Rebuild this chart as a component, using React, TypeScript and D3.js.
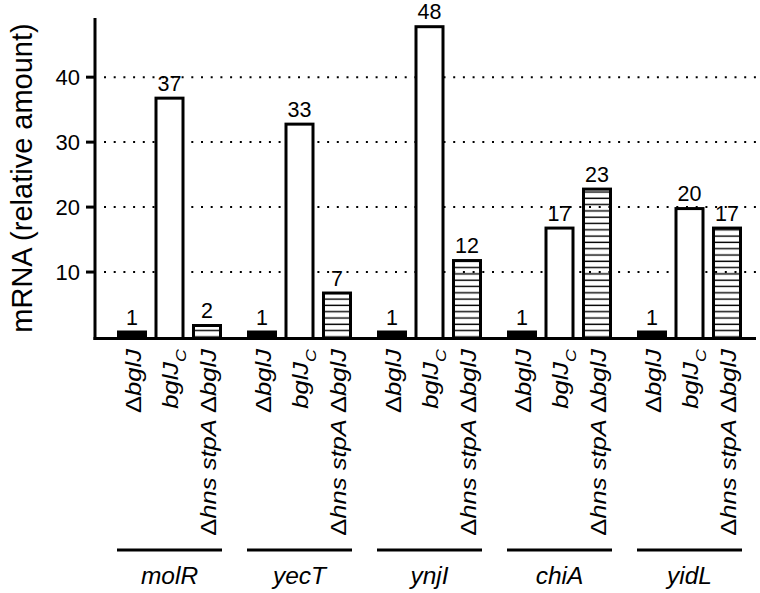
import React from "react";
import * as d3 from "d3";

const genes = ["molR", "yecT", "ynjI", "chiA", "yidL"];
const strains = ["dbglJ", "bglJC", "hnsStpA"];
const dbglJValues = [1, 1, 1, 1, 1];
const bglJCValues = [37, 33, 48, 17, 20];
const hnsStpAValues = [2, 7, 12, 23, 17];
const yTicks = [10, 20, 30, 40];

const W = 760;
const H = 593;
const FONT = "'Liberation Sans', Arial, Helvetica, sans-serif";

export default function App() {
  const x0 = d3.scaleBand<string>().domain(genes).range([117, 742]).paddingInner(25 / 130).paddingOuter(0);
  const x1 = d3.scaleBand<string>().domain(strains).range([0, x0.bandwidth()]).paddingInner(0.2).paddingOuter(0);
  const y = d3.scaleLinear().domain([0, 48.8]).range([337, 20]);

  const seriesValues: Record<string, number[]> = {
    dbglJ: dbglJValues,
    bglJC: bglJCValues,
    hnsStpA: hnsStpAValues,
  };

  const sw = 3;
  const labelTop = 349;

  const renderCatLabel = (s: string, cx: number, key: string) => {
    const tf = `translate(${cx},${labelTop}) rotate(-90) scale(1.19,1)`;
    let content: React.ReactNode;
    if (s === "dbglJ") {
      content = (
        <>
          <tspan fontStyle="normal">Δ</tspan>
          <tspan>bglJ</tspan>
        </>
      );
    } else if (s === "bglJC") {
      content = (
        <>
          <tspan>bglJ</tspan>
          <tspan fontSize={15} dy={9}>C</tspan>
        </>
      );
    } else {
      content = (
        <>
          <tspan fontStyle="normal">Δ</tspan>
          <tspan>hns stpA </tspan>
          <tspan fontStyle="normal">Δ</tspan>
          <tspan>bglJ</tspan>
        </>
      );
    }
    return (
      <text
        key={key}
        transform={tf}
        textAnchor="end"
        dy={s === "bglJC" ? 8 : 8.5}
        fontSize={21.5}
        fontStyle="italic"
        fontFamily={FONT}
        fill="#000"
      >
        {content}
      </text>
    );
  };

  return (
    <svg
      width={W}
      height={H}
      viewBox={`0 0 ${W} ${H}`}
      style={{ position: "absolute", left: 0, top: 0, background: "#fff" }}
    >
      <defs>
        <pattern id="hatch" patternUnits="userSpaceOnUse" width={8} height={6.3} y={0}>
          <line x1={0} x2={8} y1={3} y2={3} stroke="#000" strokeWidth={1.4} />
        </pattern>
      </defs>
      <rect x={0} y={0} width={W} height={H} fill="#fff" />

      {/* dotted gridlines */}
      {yTicks.map((t) => (
        <line
          key={`g${t}`}
          x1={104}
          x2={756}
          y1={y(t)}
          y2={y(t)}
          stroke="#000"
          strokeWidth={2}
          strokeDasharray="2 7.7"
        />
      ))}

      {/* bars */}
      {genes.map((g, gi) =>
        strains.map((s) => {
          const v = seriesValues[s][gi];
          const bx = (x0(g) as number) + (x1(s) as number);
          const bw = x1.bandwidth();
          const top = y(v);
          const fill = s === "dbglJ" ? "#000" : s === "bglJC" ? "#fff" : "url(#hatch)";
          return (
            <g key={`${g}-${s}`}>
              <rect
                x={bx + sw / 2}
                y={top + sw / 2}
                width={bw - sw}
                height={Math.max(0, y(0) - top)}
                fill={fill}
                stroke="#000"
                strokeWidth={sw}
              />
              <text
                x={bx + bw / 2}
                y={top - 6}
                textAnchor="middle"
                fontSize={21.5}
                fontFamily={FONT}
                fill="#000"
              >
                {v}
              </text>
            </g>
          );
        })
      )}

      {/* axes */}
      <line x1={95} x2={95} y1={18} y2={340} stroke="#000" strokeWidth={3} />
      <line x1={93.5} x2={756} y1={338.5} y2={338.5} stroke="#000" strokeWidth={3} />
      {yTicks.map((t) => (
        <g key={`t${t}`}>
          <line x1={86} x2={95} y1={y(t)} y2={y(t)} stroke="#000" strokeWidth={3} />
          <text
            x={80}
            y={y(t)}
            dy="0.36em"
            textAnchor="end"
            fontSize={22}
            fontFamily={FONT}
            fill="#000"
          >
            {t}
          </text>
        </g>
      ))}

      {/* y label */}
      <text
        transform={`translate(32,178) rotate(-90)`}
        textAnchor="middle"
        fontSize={29}
        fontFamily={FONT}
        fill="#000"
      >
        mRNA (relative amount)
      </text>

      {/* category labels */}
      {genes.map((g) =>
        strains.map((s) => {
          const cx = (x0(g) as number) + (x1(s) as number) + x1.bandwidth() / 2;
          return renderCatLabel(s, cx, `l-${g}-${s}`);
        })
      )}

      {/* group lines and gene labels */}
      {genes.map((g) => {
        const gx = x0(g) as number;
        return (
          <g key={`grp-${g}`}>
            <line x1={gx} x2={gx + x0.bandwidth()} y1={550} y2={550} stroke="#000" strokeWidth={3} />
            <text
              x={gx + x0.bandwidth() / 2}
              y={584}
              textAnchor="middle"
              fontSize={24.5}
              fontStyle="italic"
              fontFamily={FONT}
              fill="#000"
            >
              {g}
            </text>
          </g>
        );
      })}
    </svg>
  );
}
